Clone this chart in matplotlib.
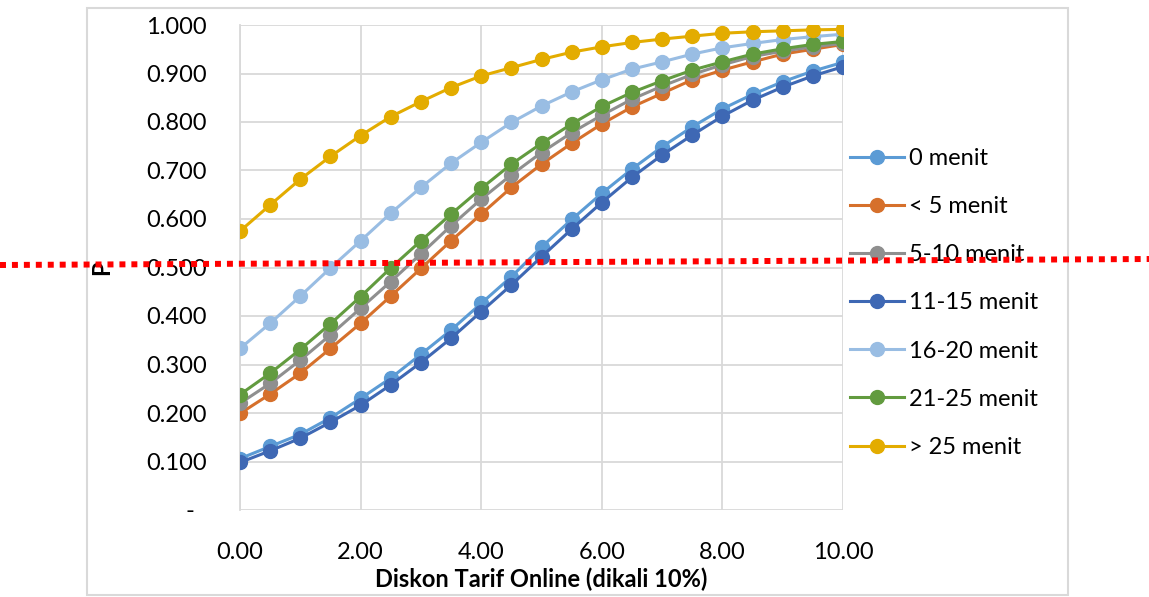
import matplotlib.pyplot as plt
import numpy as np
from matplotlib.lines import Line2D
from matplotlib.patches import Rectangle
from matplotlib.ticker import FuncFormatter

plt.rcParams['font.family'] = ['Lato', 'DejaVu Sans']

# diskon tarif online (x 10%)
diskon = [0.0, 0.5, 1.0, 1.5, 2.0, 2.5, 3.0, 3.5, 4.0, 4.5, 5.0,
          5.5, 6.0, 6.5, 7.0, 7.5, 8.0, 8.5, 9.0, 9.5, 10.0]

# probabilitas P per kategori waktu tunggu
p_0 = [0.106, 0.131, 0.156, 0.190, 0.230, 0.272, 0.321, 0.371, 0.426, 0.481, 0.542,
       0.599, 0.653, 0.703, 0.749, 0.790, 0.827, 0.857, 0.883, 0.905, 0.923]
p_5 = [0.199, 0.239, 0.282, 0.333, 0.385, 0.441, 0.498, 0.555, 0.610, 0.665, 0.713,
       0.756, 0.796, 0.831, 0.859, 0.887, 0.907, 0.924, 0.940, 0.950, 0.960]
p_5_10 = [0.220, 0.261, 0.309, 0.361, 0.416, 0.471, 0.528, 0.586, 0.641, 0.691, 0.737,
          0.778, 0.814, 0.847, 0.874, 0.898, 0.918, 0.935, 0.946, 0.955, 0.962]
p_11_15 = [0.098, 0.122, 0.148, 0.181, 0.216, 0.258, 0.304, 0.354, 0.409, 0.464, 0.522,
           0.579, 0.634, 0.686, 0.732, 0.773, 0.812, 0.845, 0.872, 0.895, 0.914]
p_16_20 = [0.333, 0.385, 0.441, 0.499, 0.555, 0.612, 0.665, 0.715, 0.758, 0.799, 0.833,
           0.862, 0.887, 0.909, 0.924, 0.940, 0.953, 0.962, 0.970, 0.976, 0.981]
p_21_25 = [0.238, 0.282, 0.331, 0.384, 0.440, 0.499, 0.555, 0.610, 0.663, 0.713, 0.756,
           0.796, 0.832, 0.861, 0.885, 0.907, 0.924, 0.940, 0.951, 0.960, 0.966]
p_25 = [0.575, 0.629, 0.682, 0.729, 0.772, 0.811, 0.842, 0.871, 0.895, 0.912, 0.929,
        0.944, 0.955, 0.964, 0.971, 0.977, 0.983, 0.986, 0.988, 0.990, 0.991]

labels = ['0 menit', '< 5 menit', '5-10 menit', '11-15 menit',
          '16-20 menit', '21-25 menit', '> 25 menit']
series = [p_0, p_5, p_5_10, p_11_15, p_16_20, p_21_25, p_25]
warna = ['#5B9BD5', '#D6702B', '#8F8F8F', '#3E68B4', '#99BDE3', '#629B3F', '#E3AC00']

FS = 17

W, H = 1149, 597
fig = plt.figure(figsize=(W / 100, H / 100), dpi=100)
ax = fig.add_axes([240 / W, 1 - 510 / H, 603 / W, 485 / H])

for y, lab, c in zip(series, labels, warna):
    ax.plot(diskon, y, color=c, lw=2.2, marker='o', ms=10, label=lab, zorder=3)

ax.set_xlim(0, 10)
ax.set_ylim(0, 1)
ax.set_xticks(np.arange(0, 10.1, 2))
ax.set_yticks(np.arange(0, 1.01, 0.1))
ax.xaxis.set_major_formatter(FuncFormatter(lambda v, p: f'{v:.2f}'))
ax.yaxis.set_major_formatter(FuncFormatter(lambda v, p: '-  ' if abs(v) < 1e-9 else f'{v:.3f}'))
ax.tick_params(length=0, labelsize=FS, colors='#000000')
ax.tick_params(axis='x', pad=23)
ax.tick_params(axis='y', pad=24)
ax.grid(True, color='#D9D9D9', lw=1.3)
ax.set_axisbelow(True)
for s in ['top', 'right', 'bottom']:
    ax.spines[s].set_visible(False)
ax.spines['left'].set_color('#D9D9D9')
ax.spines['left'].set_linewidth(1.3)

ax.set_xlabel('Diskon Tarif Online (dikali 10%)', fontsize=FS, fontweight='bold', labelpad=3)
ax.set_ylabel('P', fontsize=FS, fontweight='bold')
ax.yaxis.set_label_coords(-0.21, 0.5)

ax.legend(loc='upper left', bbox_to_anchor=(850 / W, 1 - 148 / H), bbox_transform=fig.transFigure,
          frameon=False, fontsize=FS, handlelength=2.3, handletextpad=0.2,
          labelspacing=1.15, borderpad=0, borderaxespad=0)

# bingkai chart
fig.patches.append(Rectangle((87 / W, 1 - 595 / H), (1068 - 87) / W, (595 - 8) / H,
                             transform=fig.transFigure, fill=False,
                             edgecolor='#D9D9D9', lw=1.5, zorder=0))

# garis batas P = 0.5
fig.lines.append(Line2D([0, 1], [1 - 265 / H, 1 - 259 / H], transform=fig.transFigure,
                        color='#FF0000', lw=4.3, linestyle=(0, (1, 1)), zorder=10))

fig.savefig('out.png', dpi=100)
